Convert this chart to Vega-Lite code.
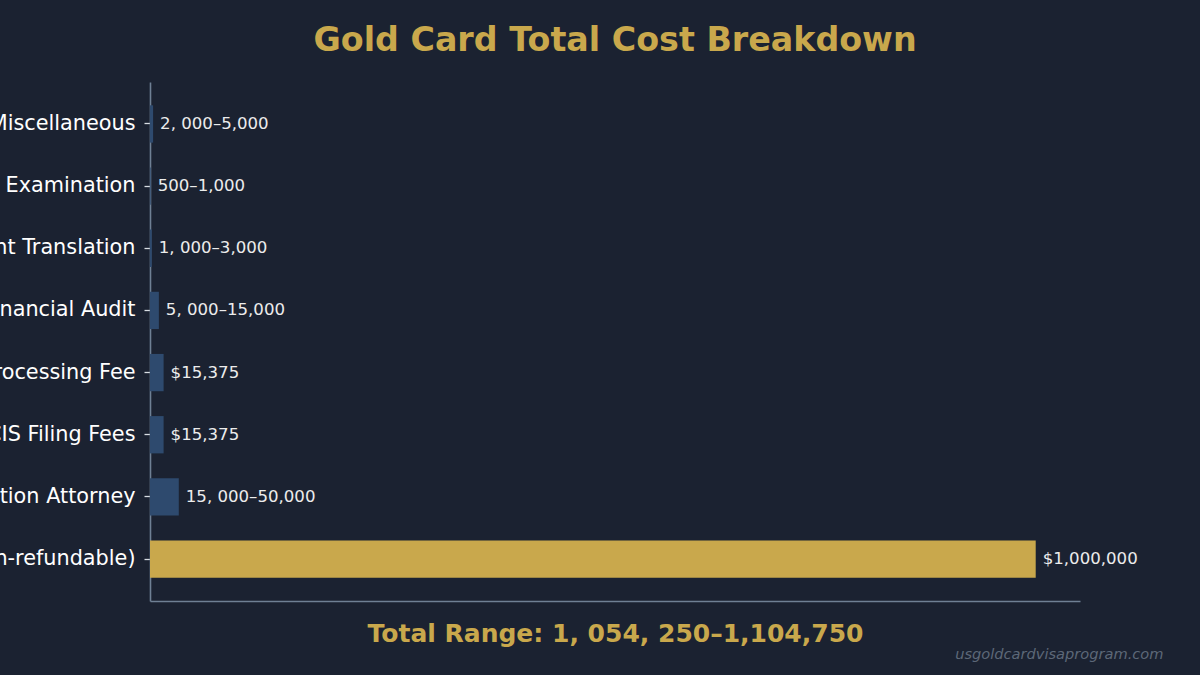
{
  "$schema": "https://vega.github.io/schema/vega-lite/v6.json",
  "autosize": {"type": "none"},
  "padding": {"left": 150, "top": 82, "right": 120, "bottom": 74},
  "width": 930,
  "height": 519,
  "background": "#1b2231",
  "title": {
    "text": "Gold Card Total Cost Breakdown",
    "color": "#c9a84c",
    "font": "DejaVu Sans",
    "fontSize": 33.3,
    "fontWeight": "bold",
    "anchor": "middle",
    "baseline": "alphabetic",
    "offset": -2
  },
  "config": {
    "view": {"stroke": null},
    "font": "DejaVu Sans"
  },
  "data": {
    "values": [
      {"item": "Miscellaneous", "value": 3500, "label": "2, 000–5,000", "order": 1, "group": "fee"},
      {"item": "Medical Examination", "value": 750, "label": "500–1,000", "order": 2, "group": "fee"},
      {"item": "Document Translation", "value": 2000, "label": "1, 000–3,000", "order": 3, "group": "fee"},
      {"item": "Financial Audit", "value": 10000, "label": "5, 000–15,000", "order": 4, "group": "fee"},
      {"item": "Processing Fee", "value": 15375, "label": "$15,375", "order": 5, "group": "fee"},
      {"item": "USCIS Filing Fees", "value": 15375, "label": "$15,375", "order": 6, "group": "fee"},
      {"item": "Immigration Attorney", "value": 32500, "label": "15, 000–50,000", "order": 7, "group": "fee"},
      {"item": "Gold Card Contribution (Non-refundable)", "value": 1000000, "label": "$1,000,000", "order": 8, "group": "contribution"}
    ]
  },
  "encoding": {
    "y": {
      "field": "item",
      "type": "nominal",
      "sort": {"field": "order", "order": "ascending"},
      "scale": {"paddingInner": 0.4, "paddingOuter": 0.375},
      "axis": {
        "title": "usgoldcardvisaprogram.com",
        "titleAngle": 0,
        "titleX": 1013,
        "titleY": 572,
        "titleAlign": "right",
        "titleBaseline": "middle",
        "titleFont": "DejaVu Sans",
        "titleFontSize": 14.6,
        "titleFontStyle": "italic",
        "titleFontWeight": "normal",
        "titleColor": "#5d6878",
        "labelColor": "#ffffff",
        "labelFont": "DejaVu Sans",
        "labelFontSize": 20.8,
        "labelLimit": 0,
        "labelPadding": 9,
        "tickColor": "#d8dde3",
        "tickSize": 6,
        "tickWidth": 1.3,
        "domainColor": "#6f8094",
        "domainWidth": 1.6,
        "grid": false
      }
    },
    "x": {
      "field": "value",
      "type": "quantitative",
      "scale": {"domain": [0, 1050000], "nice": false, "zero": true},
      "axis": {
        "title": "Total Range: 1, 054, 250–1,104,750",
        "titleColor": "#c9a84c",
        "titleFont": "DejaVu Sans",
        "titleFontSize": 25,
        "titleFontWeight": "bold",
        "titleBaseline": "middle",
        "titleY": 32,
        "labels": false,
        "ticks": false,
        "grid": false,
        "domainColor": "#6f8094",
        "domainWidth": 1.6
      }
    }
  },
  "layer": [
    {
      "mark": {"type": "bar"},
      "encoding": {
        "color": {
          "field": "group",
          "type": "nominal",
          "scale": {"domain": ["fee", "contribution"], "range": ["#2e4a6e", "#c9a84c"]},
          "legend": null
        }
      }
    },
    {
      "mark": {"type": "text", "align": "left", "baseline": "middle", "dx": 7, "fontSize": 16.6, "font": "DejaVu Sans", "color": "#ececec"},
      "encoding": {
        "text": {"field": "label", "type": "nominal"}
      }
    }
  ]
}
